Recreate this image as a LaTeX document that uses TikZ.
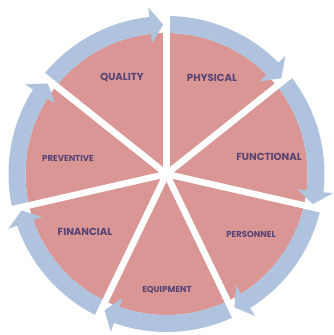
\documentclass[tikz,border=0pt]{standalone}
\usepackage{fontspec}
\setmainfont{Poppins}
\usepackage{tikz}
\definecolor{wedgepink}{HTML}{D99694}
\definecolor{ringblue}{HTML}{B0C3DE}
\definecolor{labelpurple}{HTML}{574475}
\tikzset{my_cycle/.style={x=1pt,y=1pt}}
\tikzset{my_label/.style={inner sep=0pt, text=labelpurple, font=\bfseries\fontsize{10.2}{12}\selectfont}}
\tikzset{my_small_label/.style={my_label, font=\bfseries\fontsize{8.6}{10}\selectfont}}
\tikzset{my_gap/.style={white, line width=6.5pt}}
\tikzset{my_ring/.style={ringblue}}

\begin{document}
\begin{tikzpicture}[my_cycle]
    \useasboundingbox (-166.5,-161) rectangle (166.5,174);
    %\draw[help lines] (-150,-150) grid (150,150);
    \fill[wedgepink] (0,0) circle[radius=141pt];

    % ring of arrows, head at the clockwise end
    \foreach \k in {0,...,6} {
        \pgfmathsetmacro{\s}{90-\k*360/7}
        \pgfmathsetmacro{\t}{\s-360/7+1.25}
        \pgfmathsetmacro{\b}{\t+5}
        \fill[my_ring] (\s:141pt) arc[start angle=\s, end angle=\b, radius=141pt]
            -- (\b:131.5pt) -- (\t:149.5pt) -- (\b:167.5pt) -- (\b:158pt)
            arc[start angle=\b, end angle=\s, radius=158pt] -- cycle;
    }

    % gaps between the wedges
    \foreach \k in {0,...,6}
        \draw[my_gap] (0,0) -- ({90-\k*360/7}:172pt);

    \node[my_label] (quality) at (-44.5,97) {QUALITY};
    \node[my_label] (physical) at (45.5,96) {PHYSICAL};
    \node[my_label] (functional) at (102.5,17) {FUNCTIONAL};
    \node[my_small_label] (personnel) at (84.5,-60) {PERSONNEL};
    \node[my_small_label] (equipment) at (0.5,-116) {EQUIPMENT};
    \node[my_label] (financial) at (-81.5,-58) {FINANCIAL};
    \node[my_small_label] (preventive) at (-98.5,16) {PREVENTIVE};
\end{tikzpicture}
\end{document}
